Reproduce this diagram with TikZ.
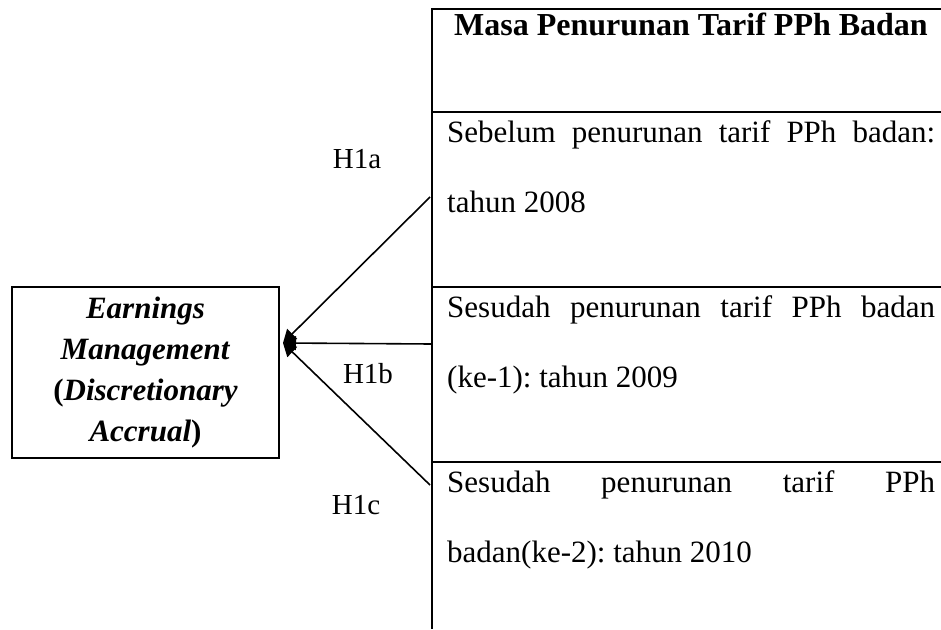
\documentclass[tikz,border=0pt]{standalone}
\usepackage{fontspec}
\setmainfont{Liberation Serif}
\usetikzlibrary{arrows.meta}
\frenchspacing

\begin{document}
\begin{tikzpicture}[x=1pt, y=-1pt,
  cell/.style={anchor=base west, inner sep=0pt, font=\fontsize{31}{40}\selectfont},
  lbl/.style={anchor=base, inner sep=0pt, font=\fontsize{29}{36}\selectfont},
  conn/.style={line width=1.6pt, -{Triangle[length=13pt, width=14pt]}}]
\useasboundingbox (0,0) rectangle (941,629);

% table of periods
\draw[line width=2.5pt] (941,9) -- (432,9) -- (432,629);
\draw[line width=2.5pt] (432,112) -- (941,112);
\draw[line width=2.5pt] (432,287) -- (941,287);
\draw[line width=2.5pt] (432,462) -- (941,462);

\node[anchor=base, inner sep=0pt, font=\fontsize{32}{40}\selectfont\bfseries] (hdr) at (691,35) {Masa Penurunan Tarif PPh Badan};
\node[cell] (r1a) at (447,142) {\makebox[488pt][s]{Sebelum penurunan tarif PPh badan:}};
\node[cell] (r1b) at (447,212) {tahun 2008};
\node[cell] (r2a) at (447,317) {\makebox[488pt][s]{Sesudah penurunan tarif PPh badan}};
\node[cell] (r2b) at (447,387) {(ke-1): tahun 2009};
\node[cell] (r3a) at (447,492) {\makebox[488pt][s]{Sesudah penurunan tarif PPh}};
\node[cell] (r3b) at (447,562) {badan(ke-2): tahun 2010};

% dependent variable
\node[draw, line width=2pt, inner sep=0pt, minimum width=267pt, minimum height=171pt,
  align=center, font=\fontsize{31}{41}\selectfont] (em) at (145.5,372.5)
  {\textbf{\textit{Earnings}}\\ \textbf{\textit{Management}}\\
   \textbf{(\textit{Discretionary}}\\ \textbf{\textit{Accrual})}};

% hypotheses
\coordinate (tip) at (283,343);
\coordinate (s1) at (430,197);
\coordinate (s2) at (432,344);
\coordinate (s3) at (430,485);
\draw[conn] (s1) -- (tip);
\draw[conn] (s2) -- (tip);
\draw[conn] (s3) -- (tip);

\node[lbl] (h1a) at (357,168) {H1a};
\node[lbl] (h1b) at (368,383) {H1b};
\node[lbl] (h1c) at (356,514) {H1c};
\end{tikzpicture}
\end{document}
